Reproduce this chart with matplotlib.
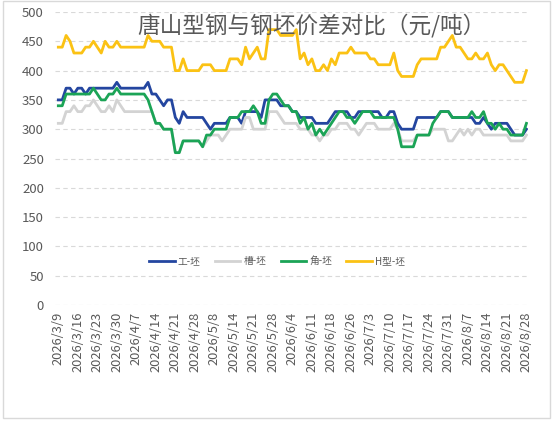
import matplotlib
matplotlib.use("Agg")
import matplotlib.pyplot as plt
from matplotlib.patches import Rectangle

plt.rcParams['font.family'] = ['Noto Sans CJK SC', 'DejaVu Sans']

# tick labels, one every 5 trading days
tick_labels = [
    "2026/3/9", "2026/3/16", "2026/3/23", "2026/3/30", "2026/4/7",
    "2026/4/14", "2026/4/21", "2026/4/28", "2026/5/8", "2026/5/14",
    "2026/5/21", "2026/5/28", "2026/6/4", "2026/6/11", "2026/6/18",
    "2026/6/26", "2026/7/3", "2026/7/10", "2026/7/17", "2026/7/24",
    "2026/7/31", "2026/8/7", "2026/8/14", "2026/8/21", "2026/8/28",
]

# 工-坯
gong = [
    350, 350, 370, 370, 360, 370, 370, 360, 370, 370,
    370, 370, 370, 370, 370, 380, 370, 370, 370, 370,
    370, 370, 370, 380, 360, 360, 350, 340, 350, 350,
    320, 310, 330, 320, 320, 320, 320, 320, 310, 300,
    310, 310, 310, 310, 320, 320, 320, 310, 330, 330,
    330, 330, 320, 350, 350, 350, 350, 340, 340, 340,
    330, 330, 320, 320, 320, 320, 310, 310, 310, 310,
    320, 330, 330, 330, 330, 320, 320, 330, 330, 330,
    330, 330, 330, 320, 320, 330, 330, 310, 300, 300,
    300, 300, 320, 320, 320, 320, 320, 320, 330, 330,
    330, 320, 320, 320, 320, 320, 320, 310, 310, 320,
    310, 300, 310, 310, 310, 310, 300, 290, 290, 290,
    300,
]

# 槽-坯
cao = [
    310, 310, 330, 330, 340, 330, 330, 340, 340, 350,
    340, 330, 330, 340, 330, 350, 340, 330, 330, 330,
    330, 330, 330, 330, 330, 310, 310, 300, 300, 300,
    260, 260, 280, 280, 280, 280, 280, 270, 280, 290,
    290, 290, 280, 290, 300, 300, 300, 300, 320, 320,
    300, 300, 300, 300, 330, 330, 330, 320, 310, 310,
    310, 310, 300, 300, 300, 290, 290, 280, 290, 290,
    300, 300, 310, 310, 310, 300, 300, 290, 300, 310,
    310, 310, 300, 300, 300, 300, 310, 300, 280, 280,
    280, 280, 290, 290, 290, 290, 300, 300, 300, 300,
    280, 280, 290, 300, 290, 300, 290, 300, 300, 290,
    290, 290, 290, 290, 290, 290, 280, 280, 280, 280,
    290,
]

# 角-坯
jiao = [
    340, 340, 360, 360, 360, 360, 360, 360, 360, 370,
    360, 350, 350, 360, 360, 370, 360, 360, 360, 360,
    360, 360, 360, 350, 330, 310, 310, 300, 300, 300,
    260, 260, 280, 280, 280, 280, 280, 270, 290, 290,
    300, 300, 300, 300, 320, 320, 320, 330, 330, 330,
    340, 330, 310, 310, 350, 360, 360, 350, 340, 340,
    330, 330, 310, 320, 300, 310, 290, 300, 290, 300,
    310, 320, 330, 330, 320, 320, 310, 320, 330, 330,
    330, 320, 320, 320, 320, 320, 320, 300, 270, 270,
    270, 270, 290, 290, 290, 290, 310, 320, 330, 330,
    330, 320, 320, 320, 320, 320, 330, 320, 320, 330,
    310, 310, 300, 310, 300, 300, 290, 290, 290, 290,
    310,
]

# H型-坯
h_xing = [
    440, 440, 460, 450, 430, 430, 430, 440, 440, 450,
    440, 430, 450, 440, 440, 450, 440, 440, 440, 440,
    440, 440, 440, 460, 450, 450, 450, 440, 440, 440,
    400, 400, 420, 400, 400, 400, 400, 410, 410, 410,
    400, 400, 400, 400, 420, 420, 420, 410, 440, 420,
    430, 440, 420, 420, 470, 470, 470, 460, 460, 460,
    460, 470, 420, 430, 410, 420, 400, 400, 410, 400,
    420, 410, 430, 430, 430, 440, 430, 430, 430, 430,
    420, 420, 410, 410, 410, 410, 430, 400, 390, 390,
    390, 390, 410, 420, 420, 420, 420, 420, 440, 440,
    450, 460, 440, 440, 430, 420, 420, 430, 420, 420,
    430, 410, 400, 410, 410, 400, 390, 380, 380, 380,
    400,
]

series = [
    ("工-坯", gong, "#2446A0"),
    ("槽-坯", cao, "#D3D3D3"),
    ("角-坯", jiao, "#1BA456"),
    ("H型-坯", h_xing, "#FBC214"),
]

text_col = "#595959"

fig = plt.figure(figsize=(5.54, 4.22), dpi=100)
ax = fig.add_axes([55 / 554, 1 - 305 / 422, 473 / 554, 293 / 422])

x = list(range(len(gong)))
for name, vals, col in series:
    ax.plot(x, vals, color=col, lw=2.0, label=name, solid_joinstyle="round")

ax.set_ylim(0, 500)
ax.set_yticks(range(0, 501, 50))
ax.set_xlim(-0.85, 120.4)
ax.set_xticks(x[::5])
ax.set_xticklabels(tick_labels, rotation=90)
ax.tick_params(axis="both", length=0, colors=text_col, pad=5)
ax.tick_params(axis="y", labelsize=9.5, pad=8)
for lbl in ax.get_xticklabels():
    lbl.set_fontsize(9.3)

for s in ax.spines.values():
    s.set_visible(False)
ax.yaxis.grid(True, color="#D9D9D9", lw=0.8, ls=(0, (4, 3)))
ax.set_axisbelow(True)

fig.text(311 / 554, 1 - 26 / 422, "唐山型钢与钢坯价差对比（元/吨）",
         ha="center", va="center", fontsize=16.3, color=text_col)

fig.legend(loc="center", bbox_to_anchor=(277 / 554, 1 - 261 / 422), ncol=4,
           frameon=False, fontsize=7, handlelength=2.6, columnspacing=1.5,
           handletextpad=0.3, labelcolor=text_col)

fig.patches.append(Rectangle((3 / 554, 4 / 422), 547 / 554, 417 / 422,
                             transform=fig.transFigure, fill=False,
                             edgecolor="#D9D9D9", lw=1))

fig.savefig("out.png", dpi=100)
